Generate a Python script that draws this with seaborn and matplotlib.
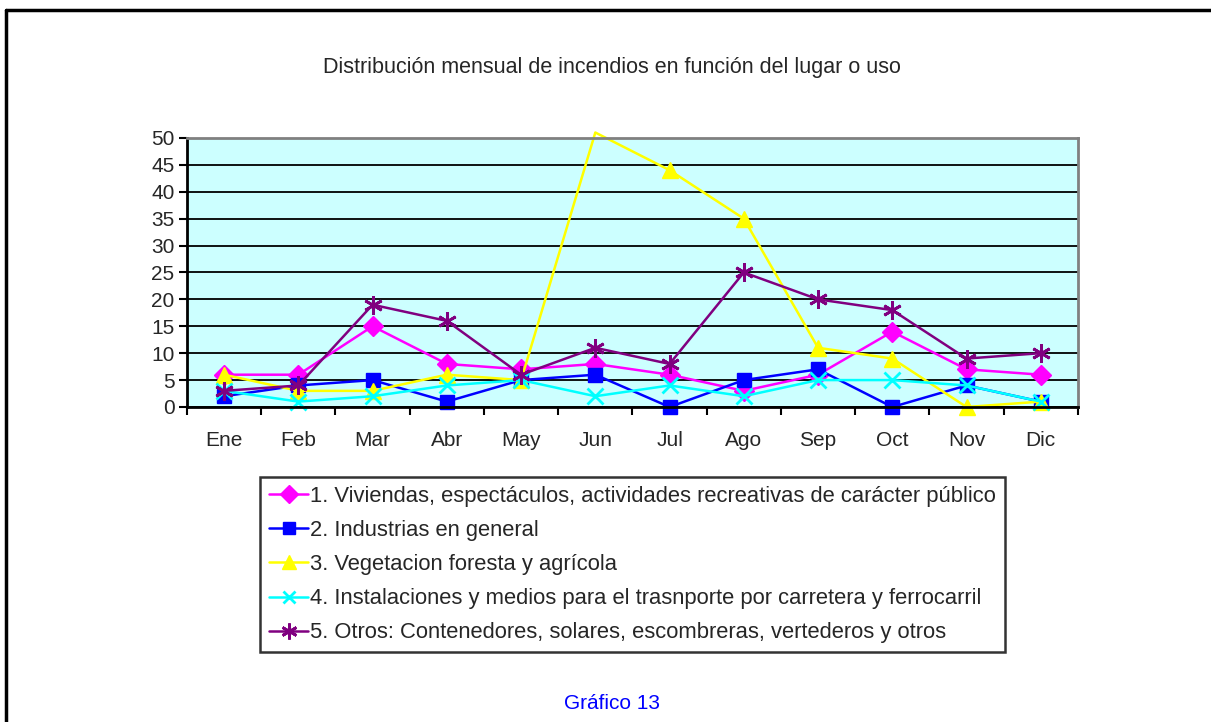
import numpy as np
import pandas as pd
import matplotlib.pyplot as plt
from matplotlib.lines import Line2D
import seaborn as sns

meses = ['Ene', 'Feb', 'Mar', 'Abr', 'May', 'Jun', 'Jul', 'Ago', 'Sep', 'Oct', 'Nov', 'Dic']

viviendas = [6, 6, 15, 8, 7, 8, 6, 3, 6, 14, 7, 6]
industrias = [2, 4, 5, 1, 5, 6, 0, 5, 7, 0, 4, 1]
vegetacion = [6, 3, 3, 6, 5, 51, 44, 35, 11, 9, 0, 1]
transporte = [3, 1, 2, 4, 5, 2, 4, 2, 5, 5, 4, 1]
otros = [3, 4, 19, 16, 6, 11, 8, 25, 20, 18, 9, 10]

etiquetas = ['1. Viviendas, espectáculos, actividades recreativas de carácter público',
             '2. Industrias en general',
             '3. Vegetacion foresta y agrícola',
             '4. Instalaciones y medios para el trasnporte por carretera y ferrocarril',
             '5. Otros: Contenedores, solares, escombreras, vertederos y otros']

sns.set_style("white")
plt.rcParams['font.family'] = ['Liberation Sans', 'DejaVu Sans']

fig = plt.figure(figsize=(12.11, 7.22), dpi=100)
ax = fig.add_axes([0.1544, 0.4363, 0.7357, 0.3727])
ax.set_facecolor('#CCFFFF')

x = np.arange(len(meses))
series = [viviendas, industrias, vegetacion, transporte, otros]
colores = ['#FF00FF', '#0000FF', '#FFFF00', '#00FFFF', '#800080']
marcadores = ['D', 's', '^', 'x', (6, 2, 0)]
tamanos = [10.5, 10.5, 11.5, 11, 13.5]

for datos, nombre, c, m, ms in zip(series, etiquetas, colores, marcadores, tamanos):
    # el pico de junio sale del área y no lleva marcador
    visibles = [i for i, v in enumerate(datos) if v <= 50]
    sns.lineplot(x=x, y=datos, ax=ax, color=c, marker=m, markersize=ms,
                 markeredgecolor=c, markeredgewidth=2 if m in ['x', (6, 2, 0)] else 1,
                 linewidth=1.8, label=nombre, markevery=visibles, clip_on=False,
                 legend=False)

ax.set_xlim(-0.5, 11.5)
ax.set_ylim(0, 50)
ax.set_yticks(range(0, 51, 5))
ax.yaxis.grid(True, color='black', linewidth=1.3)
ax.set_axisbelow(True)

ax.set_xticks(np.arange(-0.5, 12, 1))
ax.set_xticklabels([])
ax.set_xticks(x, minor=True)
ax.set_xticklabels(meses, minor=True)
ax.tick_params(axis='x', which='major', direction='out', length=6, width=1.5, color='black', bottom=True)
ax.tick_params(axis='x', which='minor', length=0, pad=17, labelsize=15)
ax.tick_params(axis='y', direction='out', length=6, width=1.5, color='black', left=True, labelsize=15, pad=3)

for lado in ['left', 'bottom']:
    ax.spines[lado].set_color('black')
    ax.spines[lado].set_linewidth(2)
for lado in ['top', 'right']:
    ax.spines[lado].set_color('#808080')
    ax.spines[lado].set_linewidth(2)
ax.set_xlabel('')
ax.set_ylabel('')

fig.text(0.505, 0.906, 'Distribución mensual de incendios en función del lugar o uso',
         ha='center', va='center', fontsize=15.5)

handles = [Line2D([0], [0], color=c, marker=m, markersize=ms * 0.85, markeredgecolor=c,
                  markeredgewidth=2 if m in ['x', (6, 2, 0)] else 1, linewidth=1.8)
           for c, m, ms in zip(colores, marcadores, tamanos)]
leg = fig.legend(handles, etiquetas, loc='upper left', bbox_to_anchor=(0.2147, 0.3393),
                 fontsize=15.8, frameon=True, fancybox=False, handlelength=1.8,
                 handletextpad=0.1, labelspacing=0.6, borderpad=0.4, borderaxespad=0)
leg.get_frame().set_edgecolor('black')
leg.get_frame().set_linewidth(1.8)

fig.text(0.505, 0.026, 'Gráfico 13', ha='center', va='center', fontsize=15, color='#0000FF')

# marco de la página
fig.add_artist(Line2D([0.005, 1.0], [0.986, 0.986], color='black', linewidth=2.5))
fig.add_artist(Line2D([0.005, 0.005], [0.0, 0.986], color='black', linewidth=2.5))

fig.savefig('out.png', dpi=100)
